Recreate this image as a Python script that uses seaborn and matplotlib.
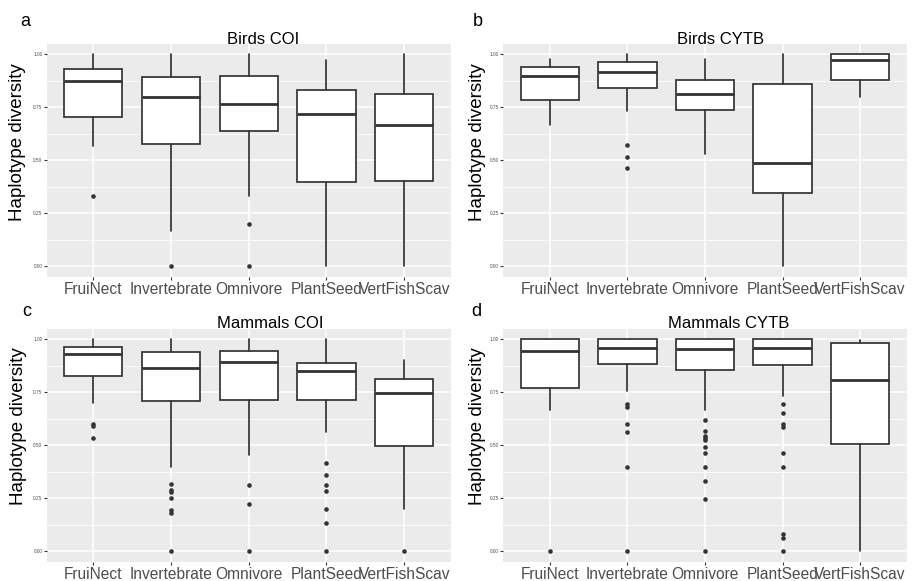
import numpy as np
import pandas as pd
import matplotlib
matplotlib.use("Agg")
import matplotlib.pyplot as plt
from matplotlib.ticker import FixedLocator
import seaborn as sns

# ---- data -------------------------------------------------------------
categories = ["FruiNect", "Invertebrate", "Omnivore", "PlantSeed", "VertFishScav"]
y_ticks = [0.0, 0.25, 0.5, 0.75, 1.0]
y_tick_labels = ["0.00", "0.25", "0.50", "0.75", "1.00"]

# Birds COI
birds_coi_lo = [0.569, 0.164, 0.333, 0.0, 0.0]
birds_coi_q1 = [0.704, 0.577, 0.637, 0.399, 0.400]
birds_coi_med = [0.873, 0.799, 0.766, 0.717, 0.667]
birds_coi_q3 = [0.931, 0.893, 0.898, 0.833, 0.814]
birds_coi_hi = [1.0, 1.0, 1.0, 0.970, 1.0]
birds_coi_out = [[0.333], [0.0], [0.200, 0.0], [], []]

# Birds CYTB
birds_cytb_lo = [0.664, 0.730, 0.530, 0.0, 0.799]
birds_cytb_q1 = [0.785, 0.841, 0.736, 0.346, 0.879]
birds_cytb_med = [0.899, 0.915, 0.813, 0.487, 0.973]
birds_cytb_q3 = [0.937, 0.962, 0.877, 0.858, 1.0]
birds_cytb_hi = [0.976, 1.0, 0.976, 1.0, 1.0]
birds_cytb_out = [[], [0.571, 0.517, 0.462], [], [], []]

# Mammals COI
mammals_coi_lo = [0.698, 0.398, 0.454, 0.564, 0.200]
mammals_coi_q1 = [0.828, 0.710, 0.715, 0.713, 0.496]
mammals_coi_med = [0.928, 0.866, 0.890, 0.849, 0.746]
mammals_coi_q3 = [0.962, 0.937, 0.945, 0.887, 0.814]
mammals_coi_hi = [1.0, 1.0, 1.0, 1.0, 0.901]
mammals_coi_out = [[0.598, 0.592, 0.535],
                   [0.318, 0.288, 0.277, 0.249, 0.194, 0.178, 0.0],
                   [0.312, 0.220, 0.0],
                   [0.416, 0.359, 0.312, 0.283, 0.198, 0.132, 0.0],
                   [0.0]]

# Mammals CYTB
mammals_cytb_lo = [0.666, 0.753, 0.666, 0.732, 0.0]
mammals_cytb_q1 = [0.770, 0.882, 0.855, 0.879, 0.506]
mammals_cytb_med = [0.945, 0.959, 0.951, 0.959, 0.809]
mammals_cytb_q3 = [1.0, 1.0, 1.0, 1.0, 0.980]
mammals_cytb_hi = [1.0, 1.0, 1.0, 1.0, 0.994]
mammals_cytb_out = [[0.0],
                    [0.693, 0.682, 0.598, 0.562, 0.398, 0.0],
                    [0.619, 0.568, 0.545, 0.535, 0.524, 0.493, 0.464, 0.398, 0.332, 0.247, 0.0],
                    [0.693, 0.653, 0.600, 0.584, 0.464, 0.398, 0.080, 0.063, 0.0],
                    []]

# ---- style ------------------------------------------------------------
sns.set_theme(style="darkgrid", rc={
    "axes.facecolor": "#EBEBEB",
    "grid.color": "white",
    "axes.edgecolor": "#EBEBEB",
    "axes.linewidth": 0,
})
plt.rcParams["font.family"] = ["Liberation Sans", "DejaVu Sans"]

W, H = 915, 581
fig = plt.figure(figsize=(W / 100, H / 100), dpi=100)


def px_axes(x0, x1, y0, y1):
    return fig.add_axes([x0 / W, 1 - y1 / H, (x1 - x0) / W, (y1 - y0) / H])


panels = [
    dict(letter="a", title="Birds COI", rect=(46.5, 450.9, 43.5, 276.9),
         title_x=263, letter_x=25.7, letter_y=26, ylab=(18, 141.7),
         lo=birds_coi_lo, q1=birds_coi_q1, med=birds_coi_med,
         q3=birds_coi_q3, hi=birds_coi_hi, out=birds_coi_out),
    dict(letter="b", title="Birds CYTB", rect=(503.3, 906.7, 43.5, 276.9),
         title_x=721, letter_x=477.8, letter_y=26, ylab=(477.5, 141.7),
         lo=birds_cytb_lo, q1=birds_cytb_q1, med=birds_cytb_med,
         q3=birds_cytb_q3, hi=birds_cytb_hi, out=birds_cytb_out),
    dict(letter="c", title="Mammals COI", rect=(46.5, 450.9, 328.5, 561.7),
         title_x=270, letter_x=27, letter_y=316, ylab=(19, 425.8),
         lo=mammals_coi_lo, q1=mammals_coi_q1, med=mammals_coi_med,
         q3=mammals_coi_q3, hi=mammals_coi_hi, out=mammals_coi_out),
    dict(letter="d", title="Mammals CYTB", rect=(503.3, 906.7, 328.5, 561.7),
         title_x=729, letter_x=476.7, letter_y=316, ylab=(477.5, 425.8),
         lo=mammals_cytb_lo, q1=mammals_cytb_q1, med=mammals_cytb_med,
         q3=mammals_cytb_q3, hi=mammals_cytb_hi, out=mammals_cytb_out),
]

line_col = "#333333"

for p in panels:
    x0, x1, y0, y1 = p["rect"]
    ax = px_axes(x0, x1, y0, y1)

    # outlying observations, drawn by seaborn on the categorical axis
    rows = [(c, v) for c, vals in zip(categories, p["out"]) for v in vals]
    outliers = pd.DataFrame(rows, columns=["group", "hd"])
    sns.stripplot(data=outliers, x="group", y="hd", order=categories,
                  jitter=False, color=line_col, size=3.3, linewidth=0,
                  ax=ax, zorder=4)

    stats = [dict(whislo=lo, q1=a, med=m, q3=b, whishi=hi, fliers=[])
             for lo, a, m, b, hi in zip(p["lo"], p["q1"], p["med"], p["q3"], p["hi"])]
    ax.bxp(stats, positions=range(len(categories)), widths=0.75,
           showcaps=False, showfliers=False, patch_artist=True,
           manage_ticks=False,
           boxprops=dict(facecolor="white", edgecolor=line_col, linewidth=1.25),
           whiskerprops=dict(color=line_col, linewidth=1.25),
           medianprops=dict(color=line_col, linewidth=2.0),
           zorder=3)

    ax.set_xlim(-0.6, len(categories) - 0.4)
    ax.set_ylim(-0.05, 1.05)
    ax.set_xticks(range(len(categories)))
    ax.set_xticklabels(categories, fontsize=11.2, color="#4D4D4D")
    ax.set_yticks(y_ticks)
    ax.set_yticklabels(y_tick_labels, fontsize=3.4, color="#4D4D4D")
    ax.yaxis.set_minor_locator(FixedLocator([0.125, 0.375, 0.625, 0.875]))
    ax.xaxis.grid(True, which="major", color="white", linewidth=1.1)
    ax.yaxis.grid(True, which="major", color="white", linewidth=1.1)
    ax.yaxis.grid(True, which="minor", color="white", linewidth=0.55)
    ax.set_axisbelow(True)
    ax.tick_params(axis="x", which="major", length=2, width=0.8,
                   color=line_col, pad=2.0, bottom=True)
    ax.tick_params(axis="y", which="major", length=2, width=0.8,
                   color=line_col, pad=1, left=True)
    ax.tick_params(axis="y", which="minor", length=0)
    ax.set_xlabel("")
    ax.set_ylabel("")
    for s in ax.spines.values():
        s.set_visible(False)

    fig.text(p["title_x"] / W, 1 - y0 / H, p["title"], ha="center",
             va="baseline", fontsize=12, color="black")
    fig.text(p["letter_x"] / W, 1 - p["letter_y"] / H, p["letter"],
             ha="center", va="baseline", fontsize=13, color="black")
    fig.text(p["ylab"][0] / W, 1 - p["ylab"][1] / H, "Haplotype diversity",
             ha="center", va="center", rotation=90, fontsize=13.5,
             color="black")

fig.savefig("out.png", dpi=100, facecolor="white")
